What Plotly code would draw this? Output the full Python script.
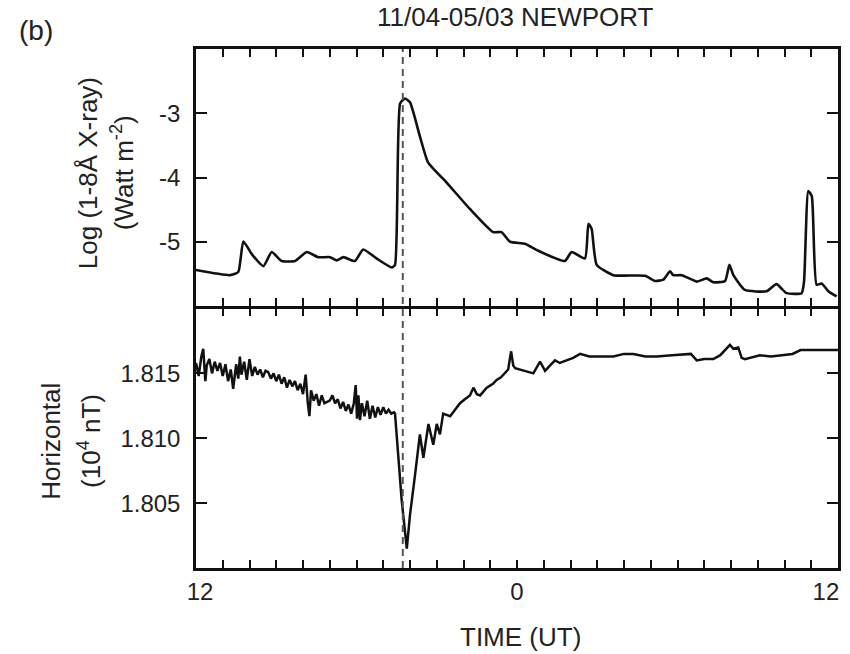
import plotly.graph_objects as go
from plotly.subplots import make_subplots

# ---------------- data ----------------
xray_t = [-12.0, -10.73, -10.42, -10.23, -9.9, -9.48, -9.17, -8.8, -8.3, -7.86,
          -7.43, -6.99, -6.74, -6.49, -6.06, -5.75, -5.25, -4.68, -4.56, -4.37,
          -4.19, -4.0, -3.63, -3.32, -2.63, -1.76, -0.89, -0.58, -0.26, 0.30,
          0.74, 1.79, 2.04, 2.54, 2.67, 2.79, 2.98, 3.60, 4.79, 5.16,
          5.47, 5.72, 5.84, 6.16, 6.72, 7.09, 7.34, 7.78, 7.94, 8.09,
          8.52, 9.33, 9.70, 10.08, 10.64, 10.73, 10.89, 11.02, 11.20, 11.39,
          11.64, 11.95]
xray_log = [-5.44, -5.52, -5.47, -4.995, -5.2, -5.38, -5.16, -5.30, -5.30, -5.16,
            -5.24, -5.24, -5.29, -5.24, -5.30, -5.12, -5.26, -5.40, -5.36, -2.85,
            -2.77, -2.83, -3.36, -3.77, -4.08, -4.49, -4.85, -4.85, -5.00, -5.03,
            -5.13, -5.30, -5.16, -5.26, -4.72, -4.80, -5.36, -5.52, -5.53, -5.61,
            -5.59, -5.46, -5.52, -5.52, -5.62, -5.57, -5.63, -5.61, -5.36, -5.52,
            -5.75, -5.77, -5.66, -5.80, -5.80, -5.62, -4.21, -4.29, -5.67, -5.65,
            -5.77, -5.85]

mag_t = [-12.0, -11.9, -11.8, -11.73, -11.65, -11.6, -11.5, -11.4, -11.3, -11.2,
         -11.1, -11.0, -10.9, -10.8, -10.7, -10.61, -10.5, -10.42, -10.36, -10.3,
         -10.2, -10.1, -10.0, -9.9, -9.8, -9.7, -9.6, -9.5, -9.4, -9.3,
         -9.2, -9.1, -9.0, -8.9, -8.8, -8.7, -8.6, -8.5, -8.4, -8.3,
         -8.2, -8.1, -8.0, -7.9, -7.82, -7.76, -7.7, -7.6, -7.5, -7.4,
         -7.3, -7.2, -7.1, -7.0, -6.9, -6.8, -6.7, -6.6, -6.5, -6.4,
         -6.3, -6.2, -6.1, -6.03, -5.98, -5.93, -5.87, -5.8, -5.7, -5.6,
         -5.5, -5.4, -5.3, -5.2, -5.1, -5.0, -4.9, -4.8, -4.7, -4.6,
         -4.56,
         -4.31, -4.12, -4.0, -3.81, -3.63, -3.50, -3.31, -3.13, -3.0, -2.88,
         -2.76, -2.5, -2.3, -2.13, -1.95, -1.76, -1.63, -1.5, -1.38, -1.13,
         -0.9, -0.76, -0.6, -0.45, -0.33, -0.22, -0.14, -0.07, 0.1, 0.36,
         0.61, 0.86, 1.05, 1.23, 1.42, 1.6, 1.86, 2.1, 2.36, 2.7,
         2.98, 3.3, 3.6, 4.0, 4.35, 4.8, 5.22, 5.8, 6.34, 6.5,
         6.72, 7.0, 7.34, 7.6, 7.96, 8.09, 8.27, 8.4, 8.52, 9.08,
         9.5, 9.96, 10.3, 10.6, 11.2, 12.0]
mag_h = [1.8158, 1.8148, 1.8163, 1.8169, 1.8144, 1.8156, 1.8161, 1.8150, 1.8159, 1.8152,
         1.8158, 1.8148, 1.8157, 1.8144, 1.8153, 1.8138, 1.8157, 1.8146, 1.8163, 1.8149,
         1.8159, 1.8145, 1.8161, 1.8148, 1.8155, 1.8149, 1.8153, 1.8147, 1.8152, 1.8151,
         1.8146, 1.8150, 1.8144, 1.8149, 1.8142, 1.8147, 1.8139, 1.8145, 1.8140, 1.8144,
         1.8137, 1.8142, 1.8134, 1.8149, 1.8127, 1.8117, 1.8137, 1.8129, 1.8134, 1.8125,
         1.8133, 1.8127, 1.8128, 1.8129, 1.8133, 1.8127, 1.8130, 1.8123, 1.8128, 1.8121,
         1.8126, 1.8119, 1.8127, 1.8141, 1.8115, 1.8133, 1.8114, 1.8127, 1.8117, 1.8129,
         1.8115, 1.8125, 1.8116, 1.8124, 1.8118, 1.8124, 1.8119, 1.8122, 1.8119, 1.8120,
         1.8119,
         1.8052, 1.8015, 1.8041, 1.8072, 1.8103, 1.8085, 1.8111, 1.8095, 1.8111, 1.8103,
         1.8119, 1.8117, 1.8122, 1.8127, 1.8130, 1.8133, 1.8139, 1.8134, 1.8133, 1.8139,
         1.8142, 1.8145, 1.8147, 1.8150, 1.8153, 1.8167, 1.8156, 1.8154, 1.8153, 1.8152,
         1.8150, 1.8159, 1.8152, 1.8156, 1.8160, 1.8158, 1.8160, 1.8162, 1.8165, 1.8163,
         1.8163, 1.8163, 1.8163, 1.8165, 1.8165, 1.8163, 1.8163, 1.8164, 1.8165, 1.8165,
         1.8160, 1.8161, 1.8161, 1.8164, 1.8172, 1.8169, 1.8170, 1.8162, 1.8161, 1.8164,
         1.8163, 1.8164, 1.8165, 1.8168, 1.8168, 1.8168]

flare_peak_t = -4.27

hour_ticks = list(range(-12, 13))
time_label_vals = [-12, 0, 12]
time_labels = ["12", "0", "12"]
xray_ticks = [-5, -4, -3]
xray_labels = ["-5", "-4", "-3"]
mag_ticks = [1.805, 1.810, 1.815]
mag_labels = ["1.805", "1.810", "1.815"]

title = "11/04-05/03 NEWPORT"
panel_tag = "(b)"
xtitle = "TIME (UT)"

# ---------------- figure ----------------
FONT = "Liberation Sans, Arial, sans-serif"
TXT = "#222222"
LW = 2.5
PLOT_H = 654 - 49 - 86

fig = make_subplots(rows=2, cols=1, shared_xaxes=False, vertical_spacing=0.0)

fig.add_trace(go.Scatter(x=xray_t, y=xray_log, mode="lines",
                         line=dict(color="#111111", width=2.6, shape="spline", smoothing=0.5),
                         showlegend=False, hoverinfo="skip"), row=1, col=1)
fig.add_trace(go.Scatter(x=mag_t, y=mag_h, mode="lines",
                         line=dict(color="#111111", width=2.5),
                         showlegend=False, hoverinfo="skip"), row=2, col=1)
# empty trace that carries the label-only time axis
fig.add_trace(go.Scatter(x=[], y=[], xaxis="x3", yaxis="y2", showlegend=False,
                         hoverinfo="skip"))

axis_common = dict(showline=True, linecolor="#111111", linewidth=LW, mirror="ticks",
                   ticks="inside", tickcolor="#111111", tickwidth=2,
                   showgrid=False, zeroline=False, automargin=False,
                   tickfont=dict(family=FONT, size=24, color=TXT))

fig.update_xaxes(range=[-12, 12], tickvals=hour_ticks, showticklabels=False,
                 ticklen=8, **axis_common)

fig.update_yaxes(ticklen=11, ticklabelstandoff=8, **axis_common)
split = 0.5
fig.update_yaxes(range=[-6, -2], tickvals=xray_ticks, ticktext=xray_labels,
                 domain=[split + LW / PLOT_H, 1], row=1, col=1)
fig.update_yaxes(range=[1.800, 1.820], tickvals=mag_ticks, ticktext=mag_labels,
                 domain=[0, split], row=2, col=1)

# label-only axis: the end labels are nudged inwards as in the original figure
edge_nudge = [0.15, 0.0, -0.45]
fig.update_layout(xaxis3=dict(
    overlaying="x2", anchor="y2", side="bottom", range=[-12, 12],
    tickvals=[v + d for v, d in zip(time_label_vals, edge_nudge)], ticktext=time_labels,
    showline=False, ticks="", showgrid=False, zeroline=False, automargin=False,
    ticklabelstandoff=7, tickfont=dict(family=FONT, size=24, color=TXT)))

# dashed flare-peak line across both panels
fig.add_shape(type="line", xref="x", yref="paper", x0=flare_peak_t, x1=flare_peak_t,
              y0=0, y1=1, line=dict(color="#555555", width=2, dash="7px,5px"))

ann_font = dict(family=FONT, size=26, color=TXT)
annotations = [
    dict(text=title, x=0.497, y=1.062, xref="paper", yref="paper",
         xanchor="center", yanchor="middle", showarrow=False, font=ann_font),
    dict(text=panel_tag, x=-0.279, y=1.036, xref="paper", yref="paper",
         xanchor="left", yanchor="middle", showarrow=False,
         font=dict(family=FONT, size=28, color=TXT)),
    dict(text=xtitle, x=0.505, y=-0.133, xref="paper", yref="paper",
         xanchor="center", yanchor="middle", showarrow=False, font=ann_font),
    dict(text="Log (1-8Å X-ray)", x=-0.168, y=0.761, xref="paper", yref="paper",
         xanchor="center", yanchor="middle", textangle=-90, showarrow=False, font=ann_font),
    dict(text="(Watt m<sup>-2</sup>)", x=-0.115, y=0.761, xref="paper", yref="paper",
         xanchor="center", yanchor="middle", textangle=-90, showarrow=False, font=ann_font),
    dict(text="Horizontal", x=-0.226, y=0.245, xref="paper", yref="paper",
         xanchor="center", yanchor="middle", textangle=-90, showarrow=False, font=ann_font),
    dict(text="(10<sup>4</sup> nT)", x=-0.165, y=0.245, xref="paper", yref="paper",
         xanchor="center", yanchor="middle", textangle=-90, showarrow=False, font=ann_font),
]

fig.update_layout(width=850, height=654, autosize=False,
                  margin=dict(l=196, r=12, t=49, b=86),
                  paper_bgcolor="white", plot_bgcolor="white",
                  annotations=annotations, showlegend=False)

fig.write_html("out.html", config={"responsive": False},
               post_script="document.body.style.margin='0';document.body.style.overflow='hidden';")
